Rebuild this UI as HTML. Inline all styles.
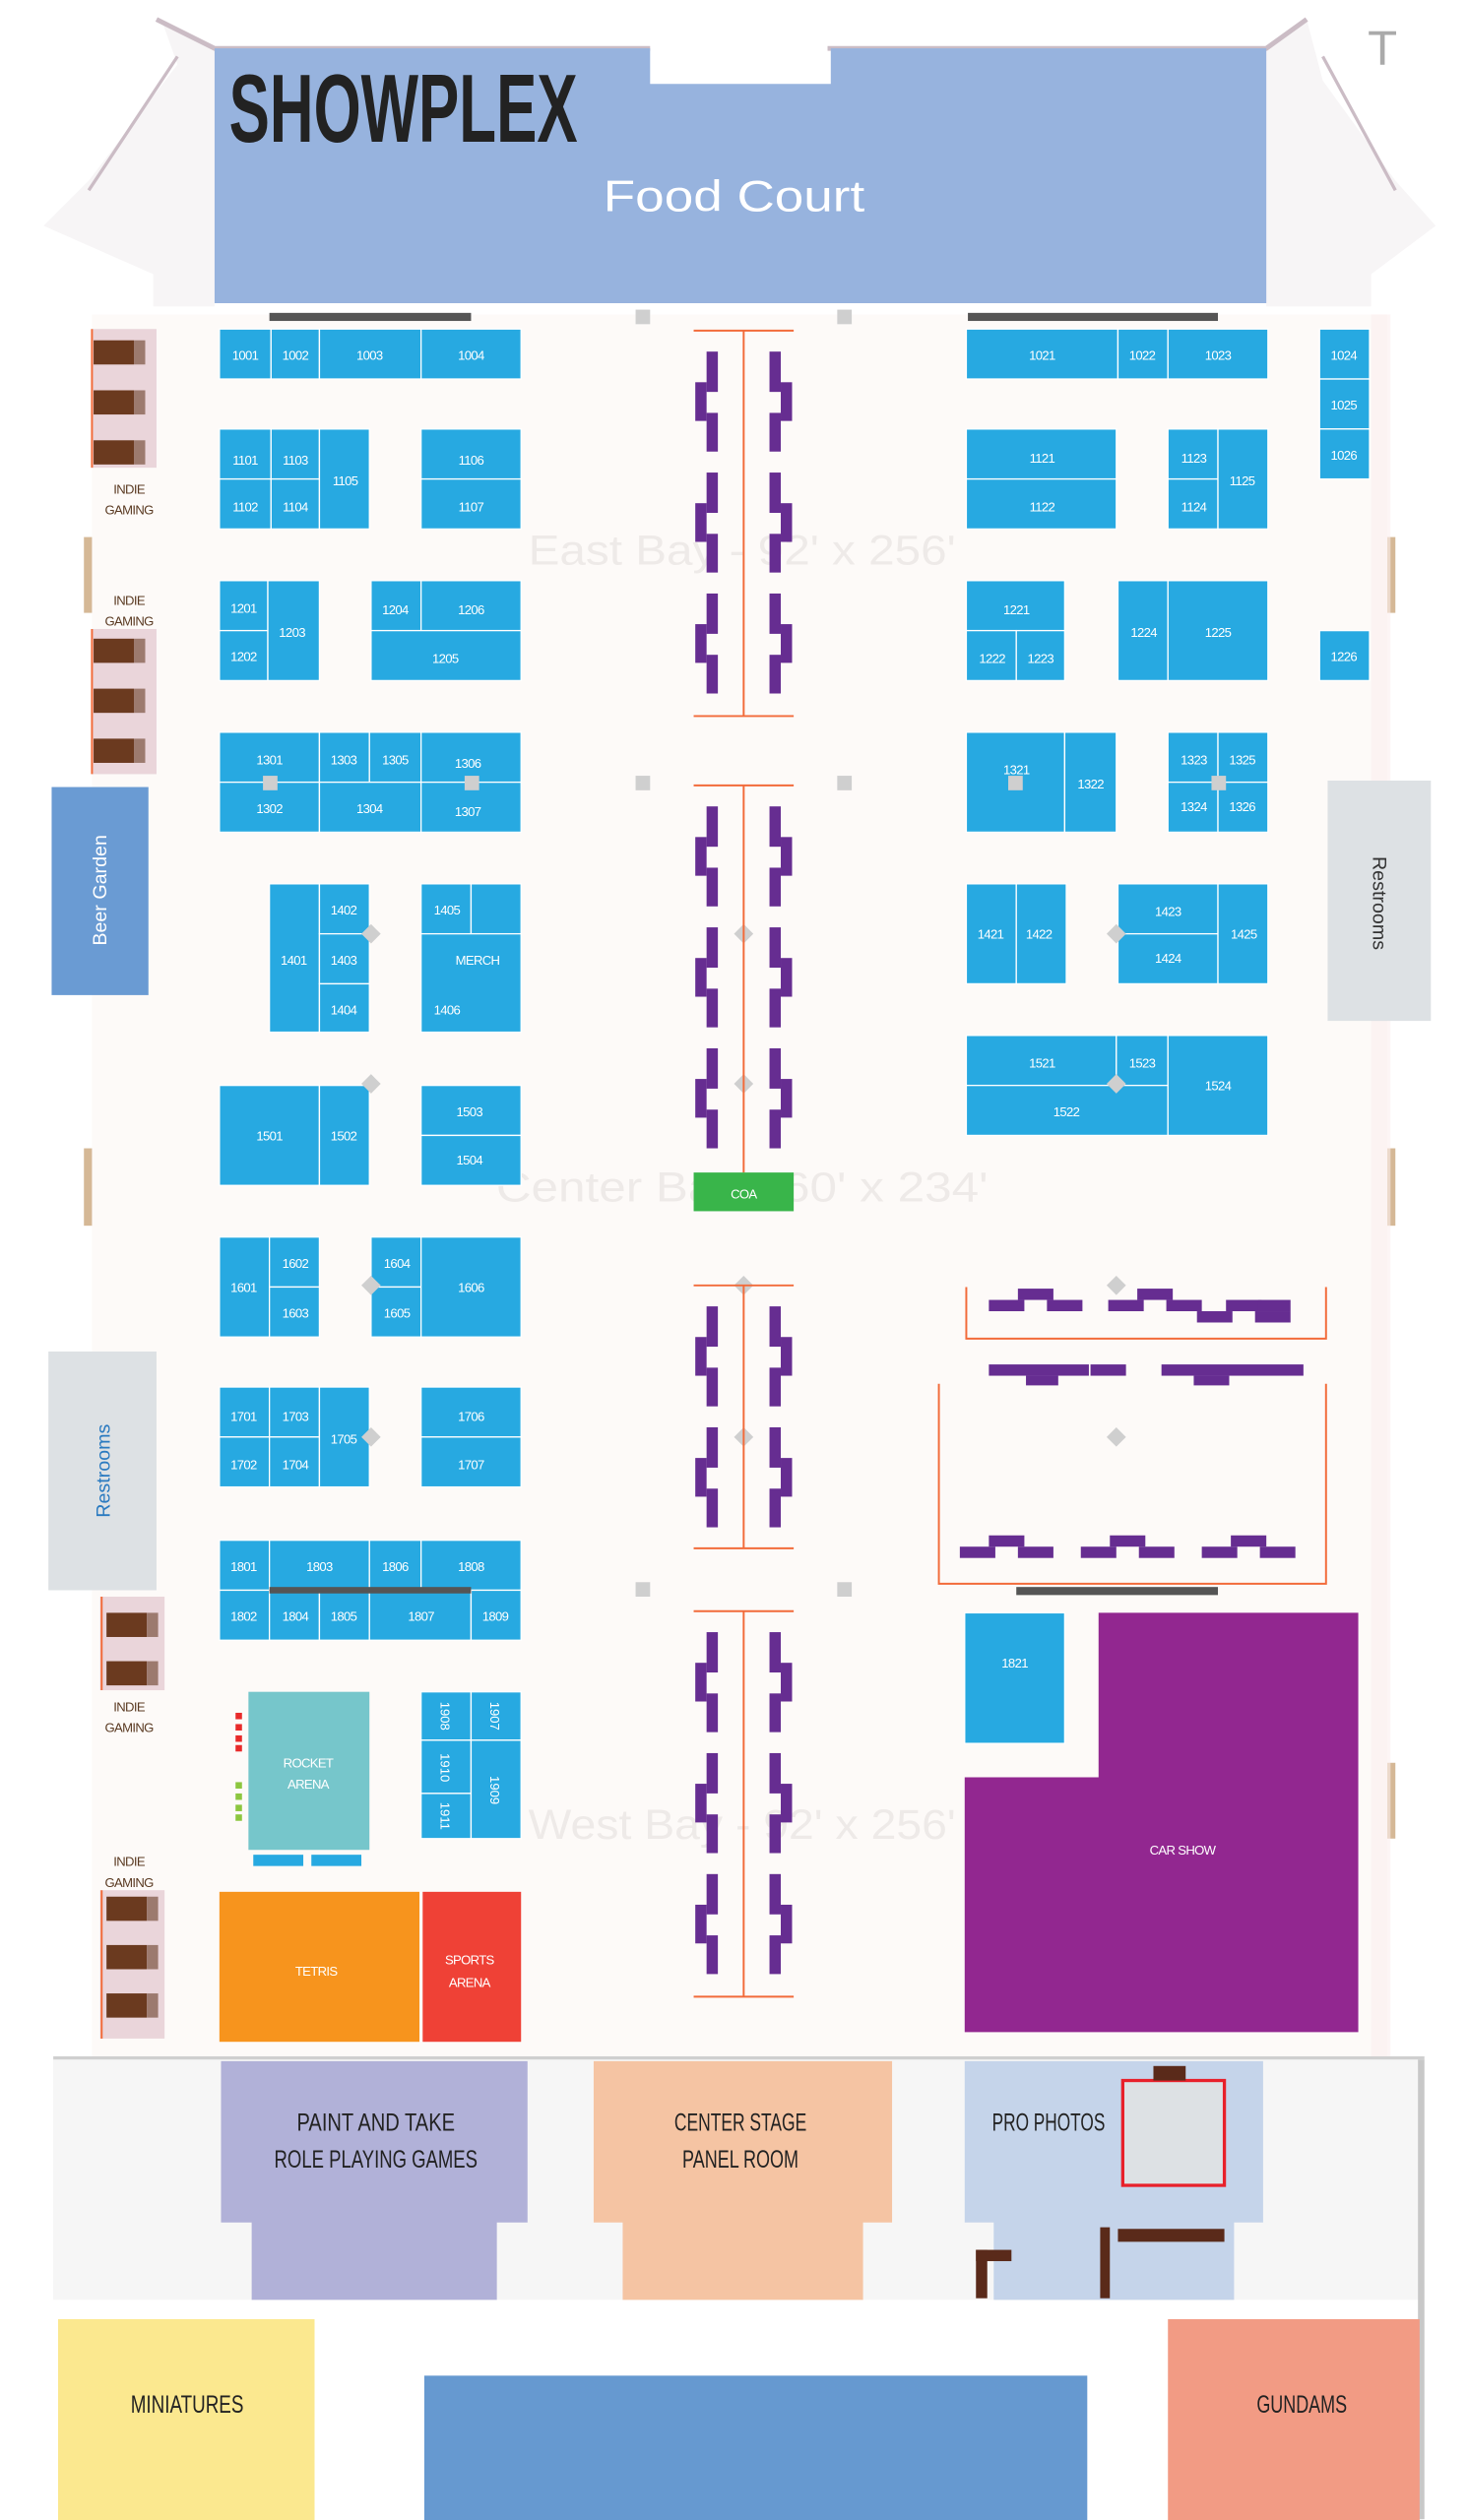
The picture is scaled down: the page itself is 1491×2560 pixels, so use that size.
<!DOCTYPE html>
<html><head><meta charset="utf-8"><style>
html,body{margin:0;padding:0;background:#fff}
svg{display:block}
.b{fill:#27a9e1;stroke:#fff;stroke-width:0.8}
.t{fill:#fff;font-family:"Liberation Sans",sans-serif;font-size:8px;letter-spacing:-0.4px;text-anchor:middle}
.d{fill:#5a3a22;font-family:"Liberation Sans",sans-serif;font-size:8px;letter-spacing:-0.4px;text-anchor:middle}
.k{fill:#222;font-family:"Liberation Sans",sans-serif;font-size:15px;text-anchor:middle}
.p{fill:#662d91}
.o{stroke:#f26b3a;stroke-width:1.2;fill:none}
</style></head><body>
<svg width="1491" height="2560" viewBox="0 0 910 1562.5" xmlns="http://www.w3.org/2000/svg">
<rect width="910" height="1562.5" fill="#fff"/>
<polygon points="100,12 133,30 133,190 95,190 95,170 27,140 55,112 110,40" fill="#f7f5f6"/>
<polygon points="810,12 785,30 785,190 850,190 850,170 890,140 865,112 820,50" fill="#f7f5f6"/>
<polyline points="97,12 133,30 403,30" fill="none" stroke="#cbbcc5" stroke-width="3"/>
<polyline points="513,30 785,30 810,12" fill="none" stroke="#cbbcc5" stroke-width="3"/>
<polyline points="110,35 55,118" fill="none" stroke="#cbbcc5" stroke-width="2"/>
<polyline points="820,35 865,118" fill="none" stroke="#cbbcc5" stroke-width="2"/>
<text x="857" y="40" font-family="Liberation Sans" font-size="30" fill="#aaa" text-anchor="middle">T</text>
<polygon points="133,30 403,30 403,52 515,52 515,30 785,30 785,188 133,188" fill="#97b3de"/>
<text x="142" y="88" font-family="Liberation Sans,sans-serif" font-weight="bold" font-size="60" fill="#222" textLength="216" lengthAdjust="spacingAndGlyphs">SHOWPLEX</text>
<text x="455" y="131" font-family="Liberation Sans" font-size="27" fill="#fff" text-anchor="middle" textLength="162" lengthAdjust="spacingAndGlyphs">Food Court</text>
<rect x="57" y="195" width="803" height="1080" fill="#fdfaf8"/>
<rect x="167" y="194" width="125" height="5" fill="#555"/>
<rect x="600" y="194" width="155" height="5" fill="#555"/>
<g fill="#eeeae8" font-family="Liberation Sans" font-size="26" text-anchor="middle">
<text x="460" y="350" textLength="265" lengthAdjust="spacingAndGlyphs">East Bay - 92' x 256'</text>
<text x="460" y="745" textLength="305" lengthAdjust="spacingAndGlyphs">Center Bay - 60' x 234'</text>
<text x="460" y="1140" textLength="265" lengthAdjust="spacingAndGlyphs">West Bay - 92' x 256'</text>
</g>
<g fill="#ead5da"><rect x="57" y="204" width="40" height="86"/><rect x="57" y="390" width="40" height="90"/><rect x="62" y="990" width="40" height="58"/><rect x="62" y="1172" width="40" height="92"/></g>
<g stroke="#f26b3a" stroke-width="1.2"><line x1="57" y1="204" x2="57" y2="290"/><line x1="57" y1="390" x2="57" y2="480"/><line x1="63" y1="990" x2="63" y2="1048"/><line x1="63" y1="1172" x2="63" y2="1264"/></g>
<g fill="#6b3a1f">
<rect x="58" y="211" width="25" height="15"/><rect x="58" y="242" width="25" height="15"/><rect x="58" y="273" width="25" height="15"/>
<rect x="58" y="396" width="25" height="15"/><rect x="58" y="427" width="25" height="15"/><rect x="58" y="458" width="25" height="15"/>
<rect x="66" y="1000" width="25" height="15"/><rect x="66" y="1030" width="25" height="15"/>
<rect x="66" y="1176" width="25" height="15"/><rect x="66" y="1206" width="25" height="15"/><rect x="66" y="1236" width="25" height="15"/>
</g>
<g fill="#9c7a6e"><rect x="83" y="211" width="7" height="15"/><rect x="83" y="242" width="7" height="15"/><rect x="83" y="273" width="7" height="15"/><rect x="83" y="396" width="7" height="15"/><rect x="83" y="427" width="7" height="15"/><rect x="83" y="458" width="7" height="15"/><rect x="91" y="1000" width="7" height="15"/><rect x="91" y="1030" width="7" height="15"/><rect x="91" y="1176" width="7" height="15"/><rect x="91" y="1206" width="7" height="15"/><rect x="91" y="1236" width="7" height="15"/></g>
<g class="d"><text x="80" y="306">INDIE</text><text x="80" y="319">GAMING</text><text x="80" y="375">INDIE</text><text x="80" y="388">GAMING</text><text x="80" y="1061">INDIE</text><text x="80" y="1074">GAMING</text><text x="80" y="1157">INDIE</text><text x="80" y="1170">GAMING</text></g>
<g fill="#d5b896"><rect x="52" y="333" width="5" height="47"/><rect x="52" y="712" width="5" height="48"/><rect x="860" y="333" width="5" height="47"/><rect x="860" y="712" width="5" height="48"/><rect x="860" y="1093" width="5" height="47"/></g>
<rect x="850" y="195" width="12" height="1080" fill="#fbeeee" opacity="0.6"/>
<rect x="32" y="488" width="60" height="129" fill="#6a9bd3"/>
<text transform="translate(66 552) rotate(-90)" font-family="Liberation Sans" font-size="12" fill="#fff" text-anchor="middle">Beer Garden</text>
<rect x="30" y="838" width="67" height="148" fill="#dde1e4"/>
<text transform="translate(68 912) rotate(-90)" font-family="Liberation Sans" font-size="12" fill="#2a7ac0" text-anchor="middle">Restrooms</text>
<rect x="823" y="484" width="64" height="149" fill="#dde1e4"/>
<text transform="translate(851 560) rotate(90)" font-family="Liberation Sans" font-size="12" fill="#333" text-anchor="middle">Restrooms</text>
<g class="b">
<rect x="136" y="204" width="32" height="31"/><rect x="168" y="204" width="30" height="31"/><rect x="198" y="204" width="63" height="31"/><rect x="261" y="204" width="62" height="31"/><rect x="599" y="204" width="94" height="31"/><rect x="693" y="204" width="31" height="31"/><rect x="724" y="204" width="62" height="31"/><rect x="818" y="204" width="31" height="31"/><rect x="818" y="235" width="31" height="31"/><rect x="818" y="266" width="31" height="31"/>
<rect x="136" y="266" width="32" height="31"/><rect x="136" y="297" width="32" height="31"/><rect x="168" y="266" width="30" height="31"/><rect x="168" y="297" width="30" height="31"/><rect x="198" y="266" width="31" height="62"/><rect x="261" y="266" width="62" height="31"/><rect x="261" y="297" width="62" height="31"/><rect x="599" y="266" width="93" height="31"/><rect x="599" y="297" width="93" height="31"/><rect x="724" y="266" width="31" height="31"/><rect x="724" y="297" width="31" height="31"/><rect x="755" y="266" width="31" height="62"/>
<rect x="136" y="360" width="30" height="31"/><rect x="136" y="391" width="30" height="31"/><rect x="166" y="360" width="32" height="62"/><rect x="230" y="360" width="31" height="31"/><rect x="261" y="360" width="62" height="31"/><rect x="230" y="391" width="93" height="31"/><rect x="599" y="360" width="61" height="31"/><rect x="599" y="391" width="31" height="31"/><rect x="630" y="391" width="30" height="31"/><rect x="693" y="360" width="31" height="62"/><rect x="724" y="360" width="62" height="62"/><rect x="818" y="391" width="31" height="31"/>
<rect x="136" y="454" width="62" height="31"/><rect x="136" y="485" width="62" height="31"/><rect x="198" y="454" width="31" height="31"/><rect x="229" y="454" width="32" height="31"/><rect x="198" y="485" width="63" height="31"/><rect x="261" y="454" width="62" height="31"/><rect x="261" y="485" width="62" height="31"/><rect x="599" y="454" width="61" height="62"/><rect x="660" y="454" width="32" height="62"/><rect x="724" y="454" width="31" height="31"/><rect x="755" y="454" width="31" height="31"/><rect x="724" y="485" width="31" height="31"/><rect x="755" y="485" width="31" height="31"/>
<rect x="167" y="548" width="31" height="92"/><rect x="198" y="548" width="31" height="31"/><rect x="198" y="579" width="31" height="31"/><rect x="198" y="610" width="31" height="30"/><rect x="261" y="548" width="31" height="31"/><rect x="292" y="548" width="31" height="31"/><rect x="261" y="579" width="62" height="61"/><rect x="599" y="548" width="31" height="62"/><rect x="630" y="548" width="31" height="62"/><rect x="693" y="548" width="62" height="31"/><rect x="693" y="579" width="62" height="31"/><rect x="755" y="548" width="31" height="62"/>
<rect x="599" y="642" width="93" height="31"/><rect x="692" y="642" width="32" height="31"/><rect x="599" y="673" width="125" height="31"/><rect x="724" y="642" width="62" height="62"/>
<rect x="136" y="673" width="62" height="62"/><rect x="198" y="673" width="31" height="62"/><rect x="261" y="673" width="62" height="31"/><rect x="261" y="704" width="62" height="31"/>
<rect x="136" y="767" width="31" height="62"/><rect x="167" y="767" width="31" height="31"/><rect x="167" y="798" width="31" height="31"/><rect x="230" y="767" width="31" height="31"/><rect x="230" y="798" width="31" height="31"/><rect x="261" y="767" width="62" height="62"/>
<rect x="136" y="860" width="31" height="31"/><rect x="136" y="891" width="31" height="31"/><rect x="167" y="860" width="31" height="31"/><rect x="167" y="891" width="31" height="31"/><rect x="198" y="860" width="31" height="62"/><rect x="261" y="860" width="62" height="31"/><rect x="261" y="891" width="62" height="31"/>
<rect x="136" y="955" width="31" height="31"/><rect x="167" y="955" width="62" height="31"/><rect x="229" y="955" width="32" height="31"/><rect x="261" y="955" width="62" height="31"/><rect x="136" y="986" width="31" height="31"/><rect x="167" y="986" width="31" height="31"/><rect x="198" y="986" width="31" height="31"/><rect x="229" y="986" width="63" height="31"/><rect x="292" y="986" width="31" height="31"/>
<rect x="598" y="1000" width="62" height="81"/>
<rect x="261" y="1049" width="31" height="30"/><rect x="261" y="1079" width="31" height="33"/><rect x="261" y="1112" width="31" height="28"/><rect x="292" y="1049" width="31" height="30"/><rect x="292" y="1079" width="31" height="61"/>
</g>
<rect x="167" y="984" width="125" height="4" fill="#555"/>
<g class="t">
<text x="152" y="223">1001</text><text x="183" y="223">1002</text><text x="229" y="223">1003</text><text x="292" y="223">1004</text><text x="646" y="223">1021</text><text x="708" y="223">1022</text><text x="755" y="223">1023</text><text x="833" y="223">1024</text><text x="833" y="254">1025</text><text x="833" y="285">1026</text>
<text x="152" y="288">1101</text><text x="152" y="317">1102</text><text x="183" y="288">1103</text><text x="183" y="317">1104</text><text x="214" y="301">1105</text><text x="292" y="288">1106</text><text x="292" y="317">1107</text><text x="646" y="287">1121</text><text x="646" y="317">1122</text><text x="740" y="287">1123</text><text x="740" y="317">1124</text><text x="770" y="301">1125</text>
<text x="151" y="380">1201</text><text x="151" y="410">1202</text><text x="181" y="395">1203</text><text x="245" y="381">1204</text><text x="292" y="381">1206</text><text x="276" y="411">1205</text><text x="630" y="381">1221</text><text x="615" y="411">1222</text><text x="645" y="411">1223</text><text x="709" y="395">1224</text><text x="755" y="395">1225</text><text x="833" y="410">1226</text>
<text x="167" y="474">1301</text><text x="167" y="504">1302</text><text x="213" y="474">1303</text><text x="245" y="474">1305</text><text x="229" y="504">1304</text><text x="290" y="476">1306</text><text x="290" y="506">1307</text><text x="630" y="480">1321</text><text x="676" y="489">1322</text><text x="740" y="474">1323</text><text x="770" y="474">1325</text><text x="740" y="503">1324</text><text x="770" y="503">1326</text>
<text x="182" y="598">1401</text><text x="213" y="567">1402</text><text x="213" y="598">1403</text><text x="213" y="629">1404</text><text x="277" y="567">1405</text><text x="296" y="598">MERCH</text><text x="277" y="629">1406</text><text x="614" y="582">1421</text><text x="644" y="582">1422</text><text x="724" y="568">1423</text><text x="724" y="597">1424</text><text x="771" y="582">1425</text>
<text x="646" y="662">1521</text><text x="708" y="662">1523</text><text x="661" y="692">1522</text><text x="755" y="676">1524</text>
<text x="167" y="707">1501</text><text x="213" y="707">1502</text><text x="291" y="692">1503</text><text x="291" y="722">1504</text>
<text x="151" y="801">1601</text><text x="183" y="786">1602</text><text x="183" y="817">1603</text><text x="246" y="786">1604</text><text x="246" y="817">1605</text><text x="292" y="801">1606</text>
<text x="151" y="881">1701</text><text x="151" y="911">1702</text><text x="183" y="881">1703</text><text x="183" y="911">1704</text><text x="213" y="895">1705</text><text x="292" y="881">1706</text><text x="292" y="911">1707</text>
<text x="151" y="974">1801</text><text x="198" y="974">1803</text><text x="245" y="974">1806</text><text x="292" y="974">1808</text><text x="151" y="1005">1802</text><text x="183" y="1005">1804</text><text x="213" y="1005">1805</text><text x="261" y="1005">1807</text><text x="307" y="1005">1809</text>
<text x="629" y="1034">1821</text>
</g>
<g fill="#fff" font-family="Liberation Sans,sans-serif" font-size="8" text-anchor="middle">
<text transform="translate(273 1064) rotate(90)">1908</text><text transform="translate(273 1096) rotate(90)">1910</text><text transform="translate(273 1126) rotate(90)">1911</text><text transform="translate(304 1064) rotate(90)">1907</text><text transform="translate(304 1110) rotate(90)">1909</text>
</g>
<g fill="#cfcfcf">
<rect x="394" y="192" width="9" height="9"/><rect x="519" y="192" width="9" height="9"/><rect x="394" y="481" width="9" height="9"/><rect x="519" y="481" width="9" height="9"/><rect x="394" y="981" width="9" height="9"/><rect x="519" y="981" width="9" height="9"/>
<rect x="163" y="481" width="9" height="9"/><rect x="288" y="481" width="9" height="9"/><rect x="625" y="481" width="9" height="9"/><rect x="751" y="481" width="9" height="9"/>
<path d="M230 573l6 6-6 6-6-6z"/><path d="M230 666l6 6-6 6-6-6z"/><path d="M461 573l6 6-6 6-6-6z"/><path d="M461 666l6 6-6 6-6-6z"/><path d="M230 791l6 6-6 6-6-6z"/><path d="M230 885l6 6-6 6-6-6z"/><path d="M461 791l6 6-6 6-6-6z"/><path d="M461 885l6 6-6 6-6-6z"/><path d="M692 573l6 6-6 6-6-6z"/><path d="M692 666l6 6-6 6-6-6z"/><path d="M692 791l6 6-6 6-6-6z"/><path d="M692 885l6 6-6 6-6-6z"/>
</g>
<g class="o">
<line x1="430" y1="205" x2="492" y2="205"/><line x1="461" y1="205" x2="461" y2="444"/><line x1="430" y1="444" x2="492" y2="444"/>
<line x1="430" y1="487" x2="492" y2="487"/><line x1="461" y1="487" x2="461" y2="727"/>
<line x1="430" y1="797" x2="492" y2="797"/><line x1="461" y1="797" x2="461" y2="960"/><line x1="430" y1="960" x2="492" y2="960"/>
<line x1="430" y1="999" x2="492" y2="999"/><line x1="461" y1="999" x2="461" y2="1238"/><line x1="430" y1="1238" x2="492" y2="1238"/>
</g>
<defs>
<g id="u" class="p"><rect x="438" y="0" width="7" height="25"/><rect x="431" y="19" width="7" height="24"/><rect x="438" y="38" width="7" height="24"/><rect x="477" y="0" width="7" height="25"/><rect x="484" y="19" width="7" height="24"/><rect x="477" y="38" width="7" height="24"/></g>
<g id="r" class="p"><rect x="0" y="7" width="22" height="7"/><rect x="18" y="0" width="22" height="7"/><rect x="36" y="7" width="22" height="7"/></g>
</defs>
<use href="#u" y="218"/><use href="#u" y="293"/><use href="#u" y="368"/>
<use href="#u" y="500"/><use href="#u" y="575"/><use href="#u" y="650"/>
<use href="#u" y="810"/><use href="#u" y="885"/>
<use href="#u" y="1012"/><use href="#u" y="1087"/><use href="#u" y="1162"/>
<rect x="430" y="727" width="62" height="24" fill="#39b54a"/>
<text x="461" y="743" class="t">COA</text>
<g class="o"><polyline points="599,798 599,830 822,830 822,798"/><polyline points="582,858 582,982 822,982 822,858"/></g>
<use href="#r" x="613" y="799"/><use href="#r" x="687" y="799"/><use href="#r" x="742" y="806"/><rect x="780" y="806" width="20" height="7" class="p"/>
<rect x="613" y="846" width="62" height="7" class="p"/><rect x="636" y="853" width="20" height="6" class="p"/><rect x="676" y="846" width="22" height="7" class="p"/><rect x="720" y="846" width="88" height="7" class="p"/><rect x="740" y="853" width="22" height="6" class="p"/>
<use href="#r" x="595" y="952"/><use href="#r" x="670" y="952"/><use href="#r" x="745" y="952"/>
<rect x="630" y="984" width="125" height="5" fill="#555"/>
<polygon points="681,1000 842,1000 842,1260 598,1260 598,1102 681,1102" fill="#922790"/>
<text x="733" y="1150" class="t">CAR SHOW</text>
<rect x="154" y="1049" width="75" height="98" fill="#76c6cb"/>
<text x="191" y="1096" class="t">ROCKET</text><text x="191" y="1109" class="t">ARENA</text>
<rect x="157" y="1150" width="31" height="7" fill="#27a9e1"/><rect x="193" y="1150" width="31" height="7" fill="#27a9e1"/>
<g fill="#e82a2a"><rect x="146" y="1062" width="4" height="4"/><rect x="146" y="1069" width="4" height="4"/><rect x="146" y="1076" width="4" height="4"/><rect x="146" y="1082" width="4" height="4"/></g>
<g fill="#8cc63f"><rect x="146" y="1105" width="4" height="4"/><rect x="146" y="1112" width="4" height="4"/><rect x="146" y="1119" width="4" height="4"/><rect x="146" y="1125" width="4" height="4"/></g>
<rect x="136" y="1173" width="124" height="93" fill="#f7941d"/>
<rect x="262" y="1173" width="61" height="93" fill="#ef4136"/>
<text x="196" y="1225" class="t">TETRIS</text>
<text x="291" y="1218" class="t">SPORTS</text><text x="291" y="1232" class="t">ARENA</text>
<rect x="33" y="1277" width="850" height="149" fill="#f6f6f6"/>
<rect x="33" y="1275" width="850" height="2" fill="#cfcfcf"/>
<rect x="879" y="1277" width="4" height="285" fill="#c8c8c8"/>
<polygon points="137,1278 327,1278 327,1378 308,1378 308,1426 156,1426 156,1378 137,1378" fill="#b1b1d8"/>
<polygon points="368,1278 553,1278 553,1378 535,1378 535,1426 386,1426 386,1378 368,1378" fill="#f5c4a3"/>
<polygon points="598,1278 783,1278 783,1378 765,1378 765,1426 616,1426 616,1378 598,1378" fill="#c5d4ea"/>
<text x="233" y="1321" class="k" textLength="98" lengthAdjust="spacingAndGlyphs">PAINT AND TAKE</text><text x="233" y="1344" class="k" textLength="126" lengthAdjust="spacingAndGlyphs">ROLE PLAYING GAMES</text>
<text x="459" y="1321" class="k" textLength="82" lengthAdjust="spacingAndGlyphs">CENTER STAGE</text><text x="459" y="1344" class="k" textLength="72" lengthAdjust="spacingAndGlyphs">PANEL ROOM</text>
<text x="650" y="1321" class="k" textLength="70" lengthAdjust="spacingAndGlyphs">PRO PHOTOS</text>
<rect x="696" y="1290" width="63" height="65" fill="#dde1e4" stroke="#e8202a" stroke-width="2"/>
<rect x="715" y="1281" width="20" height="9" fill="#5a2a1a"/>
<g fill="#5a2a1a"><rect x="693" y="1382" width="66" height="8"/><rect x="682" y="1381" width="6" height="44"/><rect x="605" y="1395" width="22" height="7"/><rect x="605" y="1395" width="7" height="30"/></g>
<rect x="36" y="1438" width="159" height="125" fill="#fbe88f"/>
<rect x="263" y="1473" width="411" height="90" fill="#6699d0"/>
<rect x="724" y="1438" width="156" height="125" fill="#f29b84"/>
<text x="116" y="1496" class="k" textLength="70" lengthAdjust="spacingAndGlyphs">MINIATURES</text>
<text x="807" y="1496" class="k" textLength="56" lengthAdjust="spacingAndGlyphs">GUNDAMS</text>
</svg>
</body></html>
